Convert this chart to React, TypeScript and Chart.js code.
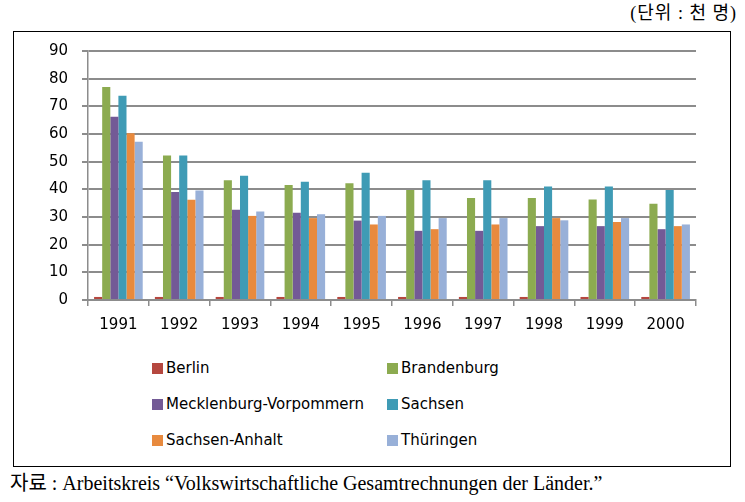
import React, { useEffect, useRef } from "react";
import { Chart, registerables } from "chart.js";

Chart.register(...registerables);

const years = ["1991", "1992", "1993", "1994", "1995", "1996", "1997", "1998", "1999", "2000"];
const berlin = [1.1, 1.1, 1.1, 1.1, 1.1, 1.1, 1.1, 1.1, 1.1, 1.1];
const brandenburg = [77.0, 52.2, 43.3, 41.6, 42.2, 39.8, 36.9, 36.9, 36.3, 34.8];
const mecklenburg = [66.2, 39.0, 32.6, 31.5, 28.7, 25.0, 25.0, 26.7, 26.7, 25.6];
const sachsen = [73.8, 52.2, 44.9, 42.7, 46.0, 43.3, 43.3, 41.0, 41.0, 39.8];
const sachsenAnhalt = [60.3, 36.2, 30.4, 29.6, 27.3, 25.6, 27.3, 29.6, 28.2, 26.7];
const thueringen = [57.2, 39.6, 32.0, 31.0, 30.4, 29.6, 29.6, 28.8, 29.6, 27.3];
const seriesNames = ["Berlin", "Brandenburg", "Mecklenburg-Vorpommern", "Sachsen", "Sachsen-Anhalt", "Thüringen"];
const seriesColors = ["#B5473F", "#8CAB50", "#735A96", "#3F9BB5", "#E88A3E", "#98B0D8"];
const yTicks = [0, 10, 20, 30, 40, 50, 60, 70, 80, 90];
const unitLabel = "(단위 : 천 명)";
const sourceLabel = "자료 : Arbeitskreis “Volkswirtschaftliche Gesamtrechnungen der Länder.”";

const seriesValues = [berlin, brandenburg, mecklenburg, sachsen, sachsenAnhalt, thueringen];

export default function App() {
  const canvasRef = useRef<HTMLCanvasElement | null>(null);

  useEffect(() => {
    if (!canvasRef.current) return;
    const gridColor = "#8c8c8c";
    const chart = new Chart(canvasRef.current, {
      type: "bar",
      data: {
        labels: years,
        datasets: seriesNames.map((name, i) => ({
          label: name,
          data: seriesValues[i],
          backgroundColor: seriesColors[i],
          borderWidth: 0,
          categoryPercentage: 0.8,
          barPercentage: 1.0,
        })),
      },
      options: {
        animation: false,
        responsive: false,
        maintainAspectRatio: false,
        layout: { padding: { left: 0, right: 49, top: 51, bottom: 5 } },
        plugins: { legend: { display: false }, tooltip: { enabled: false } },
        scales: {
          x: {
            afterFit: (s: any) => { s.height = 40; },
            grid: {
              offset: true,
              drawOnChartArea: false,
              drawTicks: true,
              tickLength: 6,
              color: gridColor,
              lineWidth: 1.5,
            },
            border: { display: true, color: gridColor, width: 2 },
            ticks: {
              color: "#000",
              padding: 10,
              font: { family: "DejaVu Sans", size: 15 },
            },
          },
          y: {
            min: 0,
            max: 90,
            afterFit: (s: any) => { s.width = 88; },
            afterBuildTicks: (s: any) => { s.ticks = yTicks.map((v) => ({ value: v })); },
            grid: {
              drawTicks: true,
              tickLength: 6,
              color: gridColor,
              lineWidth: 2,
            },
            border: { display: true, color: gridColor, width: 1.5 },
            ticks: {
              color: "#000",
              padding: 14,
              font: { family: "DejaVu Sans", size: 15 },
            },
          },
        },
      },
    });
    return () => chart.destroy();
  }, []);

  const legendCols = [152, 387];
  const legendRows = [368, 404, 440];

  return (
    <div style={{ position: "absolute", left: 0, top: 0, width: 745, height: 502, background: "#fff", overflow: "hidden" }}>
      <div
        style={{
          position: "absolute",
          right: 8,
          top: 2,
          fontFamily: "'Liberation Serif', 'Noto Sans CJK KR', serif",
          fontSize: 18,
          lineHeight: "22px",
          letterSpacing: 1,
          whiteSpace: "nowrap",
          color: "#000",
        }}
      >
        {unitLabel}
      </div>
      <div
        style={{
          position: "absolute",
          left: 13,
          top: 31,
          width: 718,
          height: 436,
          border: "1.5px solid #000",
          boxSizing: "border-box",
        }}
      />
      <canvas
        ref={canvasRef}
        width={745}
        height={345}
        style={{ position: "absolute", left: 0, top: 0, width: 745, height: 345 }}
      />
      {seriesNames.map((name, i) => (
        <div
          key={name}
          style={{
            position: "absolute",
            left: legendCols[i % 2],
            top: legendRows[Math.floor(i / 2)] - 10,
            height: 20,
            display: "flex",
            alignItems: "center",
            whiteSpace: "nowrap",
            fontFamily: "'DejaVu Sans', sans-serif",
            fontSize: 15,
            color: "#000",
          }}
        >
          <span style={{ display: "inline-block", width: 11, height: 11, background: seriesColors[i], marginRight: 3 }} />
          <span>{name}</span>
        </div>
      ))}
      <div
        style={{
          position: "absolute",
          left: 10,
          top: 471,
          fontFamily: "'Liberation Serif', 'Noto Sans CJK KR', serif",
          fontSize: 20,
          lineHeight: "24px",
          whiteSpace: "nowrap",
          color: "#000",
        }}
      >
        {sourceLabel}
      </div>
    </div>
  );
}
